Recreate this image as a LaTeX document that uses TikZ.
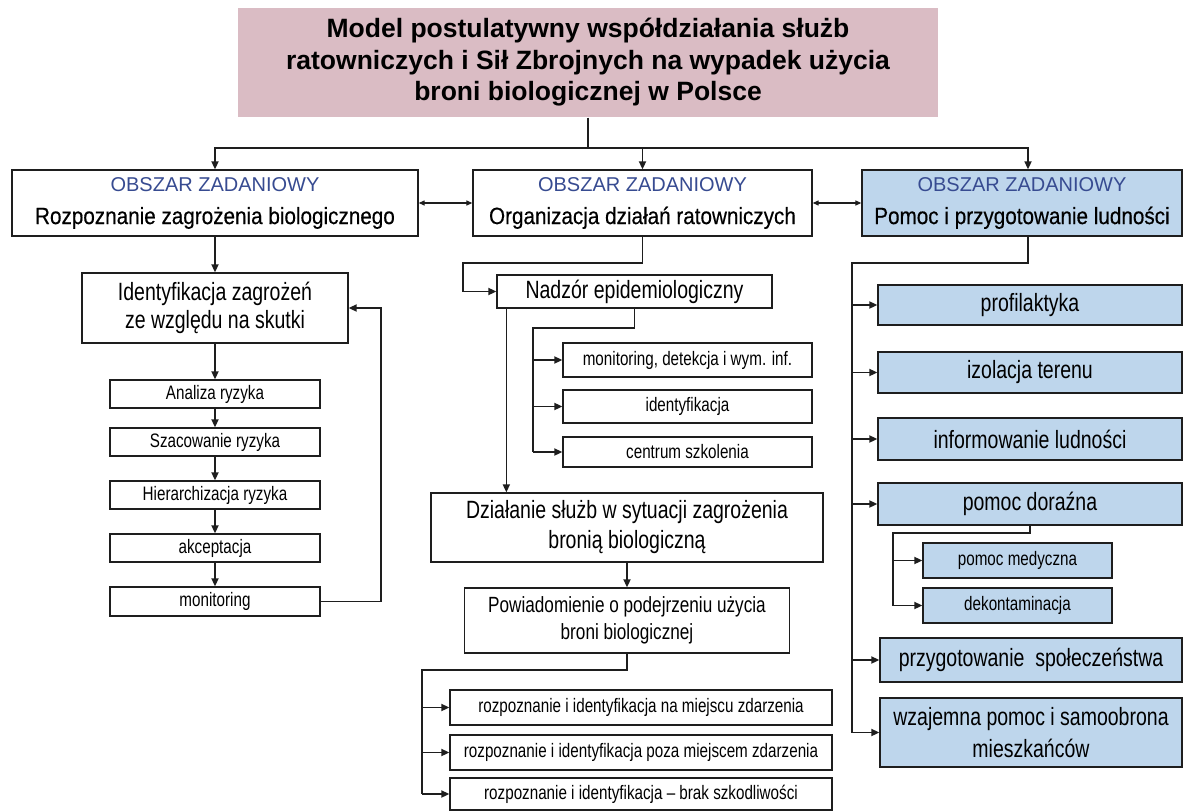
\documentclass[tikz,border=0pt]{standalone}
\usepackage{fontspec}
\setmainfont{Liberation Sans}
\newfontfamily\narrowfont[FakeStretch=0.78]{Liberation Sans}
\newfontfamily\headfont[FakeStretch=0.88, FakeBold=0.4]{Liberation Sans}
\usetikzlibrary{arrows.meta}

\definecolor{lineC}{RGB}{30,30,30}
\definecolor{titleFill}{RGB}{218,188,196}
\definecolor{blueFill}{RGB}{190,214,236}
\definecolor{areaC}{RGB}{55,75,145}

\newcommand\ttlsize{\bfseries\fontsize{26.5}{31.5}\selectfont}
\newcommand\areasize{\fontsize{20}{22}\selectfont}
\newcommand\headsize{\headfont\fontsize{23.5}{33}\selectfont}
\newcommand\bigN{\narrowfont\fontsize{25}{27.5}\selectfont}
\newcommand\smallN{\narrowfont\fontsize{19.5}{21}\selectfont}

\tikzset{
  box/.style={draw=lineC, line width=1.3pt, fill=white, align=center, inner sep=0pt, text=black},
  bluebox/.style={box, fill=blueFill},
  dims/.style 2 args={minimum width=#1pt, minimum height=#2pt},
  conn/.style={draw=lineC, line width=1.7pt},
  arr/.style={conn, -{Triangle[length=8pt,width=7pt]}},
  arrtwo/.style={conn, line width=1.2pt, {Triangle[length=6pt,width=5pt]}-{Triangle[length=6pt,width=5pt]}},
}

\begin{document}
\begin{tikzpicture}[x=1pt, y=-1pt]
\useasboundingbox (0,0) rectangle (1183,811);
\fill[white] (0,0) rectangle (1183,811);

% title
\node[box, fill=titleFill, draw=none, dims={700}{109}, font=\ttlsize] (title) at (588,62.5)
  {Model postulatywny współdziałania służb\\ratowniczych i Sił Zbrojnych na wypadek użycia\\broni biologicznej w Polsce};

% three task areas
\node[box, dims={406}{66}, font=\headsize] (rz) at (215,203)
  {{\normalfont\areasize\color{areaC}OBSZAR ZADANIOWY}\\Rozpoznanie zagrożenia biologicznego};
\node[box, dims={339}{66}, font=\headsize] (org) at (642.5,203)
  {{\normalfont\areasize\color{areaC}OBSZAR ZADANIOWY}\\Organizacja działań ratowniczych};
\node[bluebox, dims={320}{66}, font=\headsize] (pom) at (1022,203)
  {{\normalfont\areasize\color{areaC}OBSZAR ZADANIOWY}\\Pomoc i przygotowanie ludności};

% left column
\node[box, dims={266}{70}, font=\bigN] (ident) at (215,308) {Identyfikacja zagrożeń\\ze względu na skutki};
\node[box, dims={210}{28}, font=\smallN] (an) at (215,394) {Analiza ryzyka};
\node[box, dims={210}{28}, font=\smallN] (sz) at (215,442) {Szacowanie ryzyka};
\node[box, dims={210}{28}, font=\smallN] (hi) at (215,495) {Hierarchizacja ryzyka};
\node[box, dims={210}{28}, font=\smallN] (ak) at (215,548) {akceptacja};
\node[box, dims={210}{29}, font=\smallN] (mon) at (215,601.5) {monitoring};

% middle column
\node[box, dims={275}{33}, font=\bigN] (nad) at (634.5,291.5) {Nadzór epidemiologiczny};
\node[box, dims={249}{34}, font=\smallN] (md) at (687.5,360) {monitoring, detekcja i wym. inf.};
\node[box, dims={249}{33}, font=\smallN] (idf) at (687.5,406.5) {identyfikacja};
\node[box, dims={249}{30}, font=\smallN] (cs) at (687.5,452) {centrum szkolenia};
\node[box, dims={392}{69}, font={\narrowfont\fontsize{25}{30}\selectfont}] (dz) at (627,527.5) {Działanie służb w sytuacji zagrożenia\\bronią biologiczną};
\node[box, dims={325}{65}, font={\narrowfont\fontsize{22}{27}\selectfont}] (pw) at (627,620.5) {Powiadomienie o podejrzeniu użycia\\broni biologicznej};
\node[box, dims={382}{35}, font=\smallN] (rp1) at (641,707.5) {rozpoznanie i identyfikacja na miejscu zdarzenia};
\node[box, dims={382}{35}, font=\smallN] (rp2) at (641,752.5) {rozpoznanie i identyfikacja poza miejscem zdarzenia};
\node[box, dims={382}{32}, font=\smallN] (rp3) at (641,794) {rozpoznanie i identyfikacja – brak szkodliwości};

% right column
\node[bluebox, dims={304}{40}, font=\bigN] (pr) at (1030,305) {profilaktyka};
\node[bluebox, dims={304}{41}, font=\bigN] (iz) at (1030,372.5) {izolacja terenu};
\node[bluebox, dims={304}{42}, font=\bigN] (inf) at (1030,439) {informowanie ludności};
\node[bluebox, dims={304}{42}, font=\bigN] (pd) at (1030,504) {pomoc doraźna};
\node[bluebox, dims={189}{35}, font=\smallN] (pm) at (1017.5,560.5) {pomoc medyczna};
\node[bluebox, dims={189}{35}, font=\smallN] (dk) at (1017.5,605.5) {dekontaminacja};
\node[bluebox, dims={302}{44}, font=\bigN] (prz) at (1031,660) {przygotowanie\ \ społeczeństwa};
\node[bluebox, dims={302}{69}, font={\narrowfont\fontsize{25}{32}\selectfont}] (wz) at (1031,732.5) {wzajemna pomoc i samoobrona\\mieszkańców};

% junction points of the connector runs
\coordinate (busY) at (0,148);
\coordinate (mL) at (463,263);
\coordinate (mB) at (533,328);
\coordinate (pB) at (422,670);
\coordinate (rB) at (852,263);
\coordinate (dB) at (893,533);

% title to task areas
\draw[conn] (title.south) -- (title.south |- busY);
\draw[arr] (title.south |- busY) -| (rz.north);
\draw[arr] (title.south |- busY) -| (org.north);
\draw[arr] (title.south |- busY) -| ([xshift=6pt]pom.north);
\draw[arrtwo] (rz.east) -- (org.west);
\draw[arrtwo] (org.east) -- (pom.west);

% left column flow
\draw[arr] (rz.south) -- (ident.north);
\draw[arr] (ident.south) -- (an.north);
\draw[arr] (an.south) -- (sz.north);
\draw[arr] (sz.south) -- (hi.north);
\draw[arr] (hi.south) -- (ak.north);
\draw[arr] (ak.south) -- (mon.north);
\draw[arr] (mon.east) -- ++(60,0) |- (ident.east);

% middle column flow
\draw[arr] (org.south) |- (mL) |- (nad.west);
\draw[arr] ([xshift=10pt]nad.south west) -- ([xshift=10pt]nad.south west |- dz.north);
\draw[conn] (nad.south) |- (mB) -- (mB |- cs.west);
\draw[arr] (mB |- md.west) -- (md.west);
\draw[arr] (mB |- idf.west) -- (idf.west);
\draw[arr] (mB |- cs.west) -- (cs.west);
\draw[arr] (dz.south) -- (pw.north);
\draw[conn] (pw.south) |- (pB) -- (pB |- rp3.west);
\draw[arr] (pB |- rp1.west) -- (rp1.west);
\draw[arr] (pB |- rp2.west) -- (rp2.west);
\draw[arr] (pB |- rp3.west) -- (rp3.west);

% right column flow
\draw[conn] ([xshift=6pt]pom.south) |- (rB) -- (rB |- wz.west);
\draw[arr] (rB |- pr.west) -- (pr.west);
\draw[arr] (rB |- iz.west) -- (iz.west);
\draw[arr] (rB |- inf.west) -- (inf.west);
\draw[arr] (rB |- pd.west) -- (pd.west);
\draw[arr] (rB |- prz.west) -- (prz.west);
\draw[arr] (rB |- wz.west) -- (wz.west);
\draw[conn] (pd.south) |- (dB) -- (dB |- dk.west);
\draw[arr] (dB |- pm.west) -- (pm.west);
\draw[arr] (dB |- dk.west) -- (dk.west);
\end{tikzpicture}
\end{document}
